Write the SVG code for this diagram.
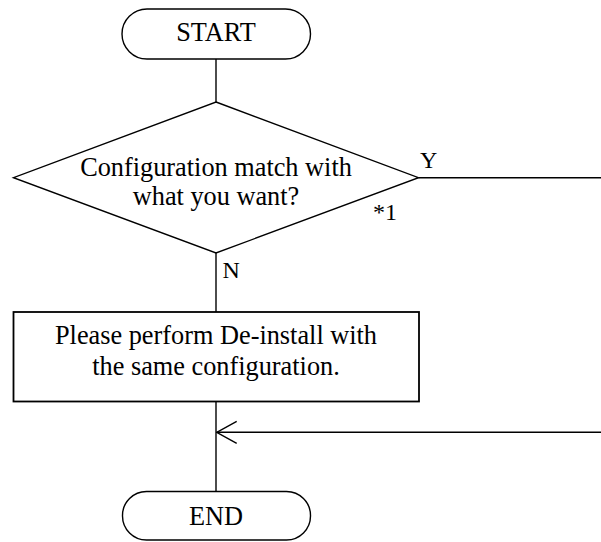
<svg xmlns="http://www.w3.org/2000/svg" width="601" height="542" viewBox="0 0 601 542">
<style>
.shape{fill:#fff;stroke:#000;stroke-width:1.4}
.box{fill:#fff;stroke:#000;stroke-width:1.8}
.line{fill:none;stroke:#000;stroke-width:1.4}
.t{font-family:"Liberation Serif","Times New Roman",serif;font-size:26.3px;fill:#000;text-anchor:middle}
.lbl{font-family:"Liberation Serif","Times New Roman",serif;font-size:24px;fill:#000}
</style>
<defs>
<marker id="open" viewBox="0 0 22 24" refX="21" refY="12" markerWidth="22" markerHeight="24" markerUnits="userSpaceOnUse" orient="auto">
<path d="M1,1 L21,12 L1,23" fill="none" stroke="#000" stroke-width="1.4"/>
</marker>
</defs>
<g id="connectors">
<line class="line" x1="216" y1="59" x2="216" y2="102"/>
<line class="line" x1="418.5" y1="177.7" x2="601" y2="177.7"/>
<line class="line" x1="216" y1="253" x2="216" y2="312"/>
<line class="line" x1="216" y1="401.5" x2="216" y2="491.5"/>
<path class="line" d="M601,432.3 L216.7,432.3" marker-end="url(#open)"/>
<text class="lbl" x="420" y="168.3">Y</text>
<text class="lbl" x="373" y="220">*1</text>
<text class="lbl" x="222.5" y="278.3">N</text>
</g>
<g id="start">
<rect class="shape" x="122" y="9" width="188.5" height="50" rx="25" ry="25"/>
<text class="t" x="216" y="40.7">START</text>
</g>
<g id="decision">
<polygon class="shape" points="216,102 418.5,177.7 216,253 13.5,177.7"/>
<text class="t" x="216" y="176">Configuration match with</text>
<text class="t" x="216" y="205">what you want?</text>
</g>
<g id="deinstall">
<rect class="box" x="13.5" y="312" width="405.5" height="89.5"/>
<text class="t" x="216" y="343.5">Please perform De-install with</text>
<text class="t" x="216" y="375">the same configuration.</text>
</g>
<g id="end">
<rect class="shape" x="122.5" y="491.5" width="188" height="48.5" rx="24" ry="24"/>
<text class="t" x="216" y="525">END</text>
</g>
</svg>
